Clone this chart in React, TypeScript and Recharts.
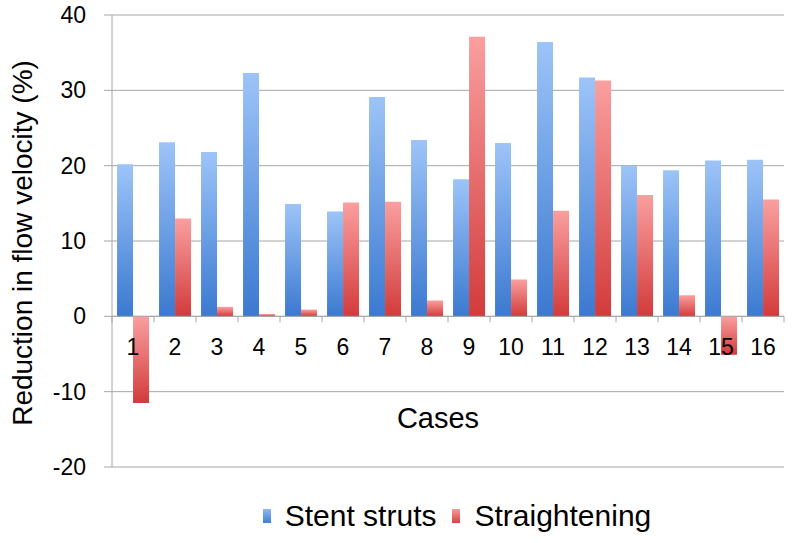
import { BarChart, Bar, XAxis, YAxis, CartesianGrid, Legend, ReferenceLine } from 'recharts';

const cases = ['1', '2', '3', '4', '5', '6', '7', '8', '9', '10', '11', '12', '13', '14', '15', '16'];
const stentStruts = [20.2, 23.1, 21.8, 32.3, 14.9, 13.9, 29.1, 23.4, 18.2, 23.0, 36.4, 31.7, 20.0, 19.4, 20.7, 20.8];
const straightening = [-11.5, 13.0, 1.25, 0.3, 0.9, 15.1, 15.2, 2.1, 37.1, 4.9, 14.0, 31.3, 16.1, 2.8, -5.1, 15.5];
const yTicks = [-20, -10, 0, 10, 20, 30, 40];

const chartData = cases.map((c, i) => ({
  name: c,
  stent: stentStruts[i],
  straight: straightening[i],
}));

const W = 792;
const H = 543;
const PLOT_TOP = 15;
const PLOT_LEFT = 112;
const PLOT_RIGHT = 8;
const PLOT_BOTTOM = 467;
const Y_MIN = -20;
const Y_MAX = 40;
const ZERO_Y = PLOT_TOP + ((PLOT_BOTTOM - PLOT_TOP) * Y_MAX) / (Y_MAX - Y_MIN);
const BAND = (W - PLOT_LEFT - PLOT_RIGHT) / cases.length;
const FONT = '"Liberation Sans", Arial, sans-serif';
const GRID = '#a6a6a6';

const CaseTick = ({ x, payload, index }: any) => (
  <g>
    <line x1={x - BAND / 2} x2={x - BAND / 2} y1={ZERO_Y} y2={ZERO_Y + 6} stroke={GRID} />
    {index === cases.length - 1 && (
      <line x1={x + BAND / 2} x2={x + BAND / 2} y1={ZERO_Y} y2={ZERO_Y + 6} stroke={GRID} />
    )}
    <text x={x} y={ZERO_Y + 39} textAnchor="middle" fontSize={23} fill="#000" fontFamily={FONT}>
      {payload.value}
    </text>
  </g>
);

const CasesLabel = () => (
  <text x={438} y={428} textAnchor="middle" fontSize={29} fill="#000" fontFamily={FONT}>
    Cases
  </text>
);

const YTitle = () => (
  <text
    x={22}
    y={243}
    transform="rotate(-90 22 243)"
    textAnchor="middle"
    dominantBaseline="central"
    fontSize={28}
    fill="#000"
    fontFamily={FONT}
  >
    Reduction in flow velocity (%)
  </text>
);

const LegendBox = () => (
  <div
    style={{
      display: 'flex',
      justifyContent: 'center',
      alignItems: 'center',
      fontFamily: FONT,
      fontSize: 30,
      color: '#000',
      paddingLeft: 130,
      marginTop: -4,
    }}
  >
    <span style={{ width: 8, height: 14, background: 'linear-gradient(#8db8f2, #3f7fd4)', marginRight: 14 }} />
    <span style={{ marginRight: 16 }}>Stent struts</span>
    <span style={{ width: 8, height: 14, background: 'linear-gradient(#f59a9a, #d64444)', marginRight: 14 }} />
    <span>Straightening</span>
  </div>
);

export default function App() {
  return (
    <div style={{ position: 'absolute', left: 0, top: 0, width: W, height: H, background: '#fff' }}>
      <BarChart
        width={W}
        height={H}
        data={chartData}
        margin={{ top: PLOT_TOP, right: PLOT_RIGHT, left: 0, bottom: 0 }}
        barCategoryGap="12%"
        barGap={0}
      >
        <defs>
          <linearGradient id="blueGrad" x1="0" y1="0" x2="0" y2="1">
            <stop offset="0%" stopColor="#9dc4f8" />
            <stop offset="100%" stopColor="#3b79d0" />
          </linearGradient>
          <linearGradient id="redGrad" x1="0" y1="0" x2="0" y2="1">
            <stop offset="0%" stopColor="#fa9f9f" />
            <stop offset="100%" stopColor="#d23b3b" />
          </linearGradient>
        </defs>
        <CartesianGrid vertical={false} stroke={GRID} />
        <YAxis
          domain={[Y_MIN, Y_MAX]}
          ticks={yTicks}
          width={PLOT_LEFT}
          stroke={GRID}
          tickSize={8}
          tickMargin={18}
          tick={{ fill: '#000', fontSize: 23, fontFamily: FONT }}
          label={<YTitle />}
        />
        <Bar dataKey="stent" name="Stent struts" fill="url(#blueGrad)" isAnimationActive={false} />
        <Bar dataKey="straight" name="Straightening" fill="url(#redGrad)" isAnimationActive={false} />
        <ReferenceLine y={0} stroke={GRID} />
        <XAxis
          dataKey="name"
          height={36}
          axisLine={false}
          tickLine={false}
          interval={0}
          tick={<CaseTick />}
          label={<CasesLabel />}
        />
        <Legend verticalAlign="bottom" height={40} content={() => <LegendBox />} />
      </BarChart>
    </div>
  );
}
